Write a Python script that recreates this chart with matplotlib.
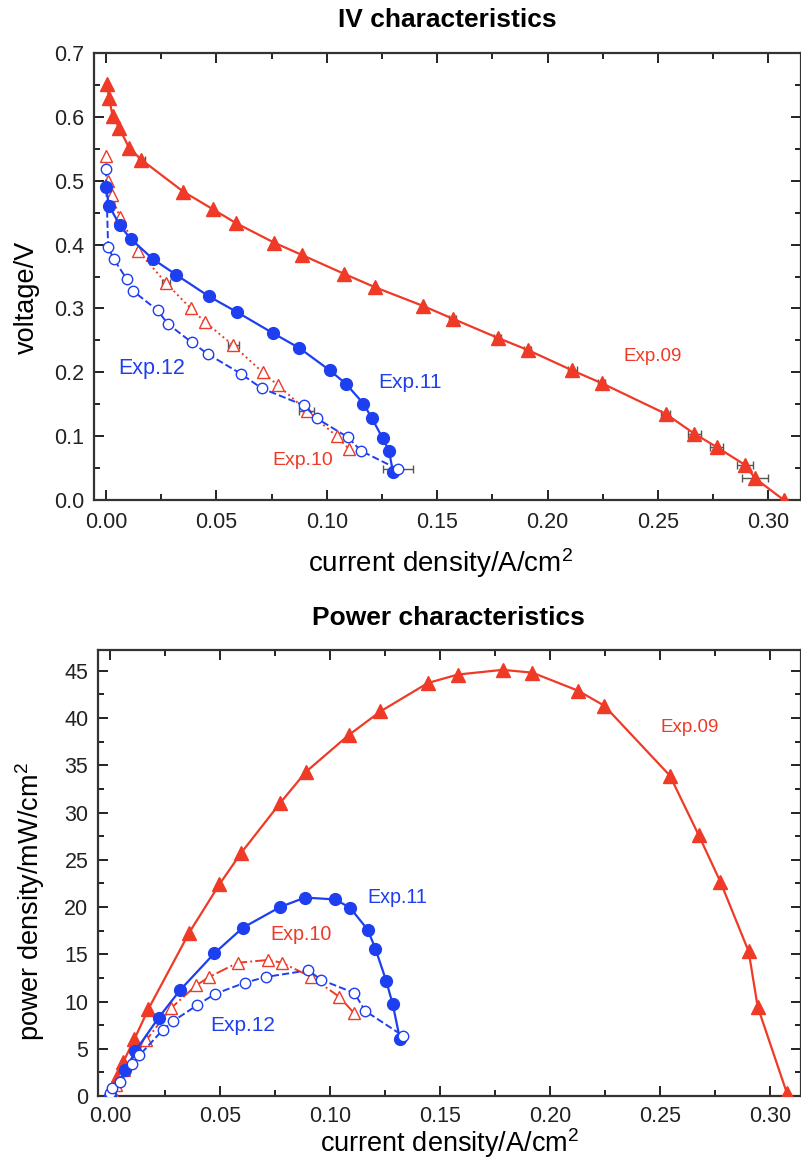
import numpy as np
import matplotlib
matplotlib.use('Agg')
import matplotlib.pyplot as plt
from matplotlib.ticker import MultipleLocator, FormatStrFormatter

plt.rcParams['font.family'] = ['Liberation Sans', 'DejaVu Sans']
plt.rcParams['mathtext.fontset'] = 'custom'
plt.rcParams['mathtext.rm'] = 'Liberation Sans'
plt.rcParams['mathtext.it'] = 'Liberation Sans'

RED = '#ee3a26'
BLUE = '#1d3ff0'

# ---- IV data (current density A/cm2, voltage V) ----
iv09_j = [0.0005, 0.0014, 0.003, 0.006, 0.0104, 0.016, 0.035, 0.0486, 0.0587, 0.0762,
          0.0886, 0.108, 0.122, 0.1436, 0.157, 0.1774, 0.191, 0.2112, 0.2245, 0.2535,
          0.2664, 0.2766, 0.2894, 0.294, 0.307]
iv09_v = [0.652, 0.630, 0.602, 0.583, 0.552, 0.533, 0.483, 0.455, 0.434, 0.403,
          0.384, 0.354, 0.333, 0.304, 0.284, 0.254, 0.235, 0.203, 0.183, 0.135,
          0.104, 0.083, 0.055, 0.034, 0.0]
iv09_err = [0, 0, 0, 0, 0, 0.0015, 0, 0, 0, 0,
            0, 0, 0, 0, 0.0015, 0.0015, 0.0015, 0.002, 0.0015, 0.002,
            0.003, 0.003, 0.0037, 0.006, 0]

iv10_j = [0.0, 0.001, 0.0026, 0.0063, 0.0146, 0.0272, 0.0384, 0.0448, 0.0577, 0.071,
          0.0778, 0.0909, 0.1045, 0.110]
iv10_v = [0.538, 0.500, 0.477, 0.443, 0.390, 0.340, 0.300, 0.279, 0.242, 0.200,
          0.180, 0.140, 0.100, 0.080]
iv10_err = [0, 0, 0, 0, 0, 0.002, 0, 0, 0.0025, 0,
            0, 0.0035, 0, 0]

iv11_j = [0.0, 0.0014, 0.0063, 0.0112, 0.0214, 0.0317, 0.0466, 0.0595, 0.0758, 0.0876,
          0.1014, 0.1087, 0.1166, 0.1203, 0.1253, 0.1282, 0.130]
iv11_v = [0.490, 0.461, 0.430, 0.409, 0.377, 0.353, 0.319, 0.294, 0.261, 0.238,
          0.203, 0.182, 0.151, 0.129, 0.097, 0.077, 0.044]

iv12_j = [0.0, 0.001, 0.0036, 0.0094, 0.0124, 0.0234, 0.028, 0.0388, 0.0464, 0.061,
          0.0705, 0.0898, 0.0954, 0.1097, 0.1155, 0.1324]
iv12_v = [0.518, 0.396, 0.377, 0.346, 0.327, 0.297, 0.276, 0.247, 0.228, 0.198,
          0.175, 0.148, 0.128, 0.098, 0.077, 0.048]
iv12_err = [0, 0, 0, 0, 0, 0, 0, 0, 0, 0,
            0, 0, 0, 0, 0, 0.0068]

# ---- power data (current density A/cm2, power density mW/cm2) ----
p09_j = [0.0, 0.0038, 0.006, 0.011, 0.0174, 0.036, 0.0497, 0.0595, 0.0773, 0.089,
         0.1085, 0.1229, 0.1444, 0.158, 0.1785, 0.192, 0.2127, 0.2247, 0.2545, 0.2676,
         0.2774, 0.2903, 0.2944, 0.3077]
p09_p = [0.0, 2.2, 3.6, 6.0, 9.2, 17.3, 22.4, 25.7, 31.0, 34.3,
         38.2, 40.7, 43.7, 44.6, 45.1, 44.8, 42.9, 41.3, 33.9, 27.6,
         22.7, 15.3, 9.45, 0.3]

p10_j = [0.0, 0.001, 0.0026, 0.0063, 0.0164, 0.0277, 0.0391, 0.0451, 0.058, 0.072,
         0.0782, 0.0914, 0.1042, 0.111]
p10_p = [0.0, 0.5, 1.2, 2.8, 5.9, 9.3, 11.7, 12.6, 14.1, 14.4,
         14.1, 12.6, 10.5, 8.75]

p11_j = [0.0, 0.007, 0.0115, 0.0221, 0.0318, 0.0474, 0.0603, 0.0773, 0.0886, 0.1024,
         0.1092, 0.1171, 0.1206, 0.1255, 0.1285, 0.1318]
p11_p = [0.0, 2.75, 4.76, 8.3, 11.2, 15.1, 17.8, 20.0, 21.0, 20.8,
         19.9, 17.6, 15.6, 12.2, 9.7, 6.0]

p12_j = [0.0, 0.001, 0.0047, 0.010, 0.0133, 0.024, 0.0285, 0.0395, 0.0477, 0.0614,
         0.0709, 0.0901, 0.0959, 0.111, 0.116, 0.1333]
p12_p = [0.3, 0.8, 1.5, 3.4, 4.3, 7.0, 7.9, 9.6, 10.8, 12.0,
         12.6, 13.3, 12.3, 10.9, 9.0, 6.35]

fig = plt.figure(figsize=(8.01, 11.73), dpi=100)
ax1 = fig.add_axes([94/801, 673/1173, 707/801, 447/1173])
ax2 = fig.add_axes([98/801, 77/1173, 703/801, 446/1173])


def style_axes(ax, xpad):
    for s in ax.spines.values():
        s.set_linewidth(1.6)
        s.set_color('#333333')
    ax.tick_params(which='both', direction='in', top=True, right=True,
                   labelsize=15.5, colors='#222222', width=1.4)
    ax.tick_params(which='major', length=7)
    ax.tick_params(which='minor', length=4)
    ax.tick_params(axis='x', which='major', pad=xpad)
    ax.tick_params(axis='y', which='major', pad=7)


# ---- IV characteristics ----
ax1.plot(iv09_j, iv09_v, '-', color=RED, lw=1.6, marker='^', ms=10, mfc=RED, mec=RED, zorder=3)
ax1.errorbar(iv09_j, iv09_v, xerr=iv09_err, fmt='none', ecolor='#555555', elinewidth=1.0, capsize=3, zorder=2)
ax1.plot(iv10_j, iv10_v, ':', color=RED, lw=1.4, marker='^', ms=8.5, mfc='white', mec=RED, mew=1.0, zorder=3)
ax1.errorbar(iv10_j, iv10_v, xerr=iv10_err, fmt='none', ecolor='#555555', elinewidth=1.0, capsize=3, zorder=2)
ax1.plot(iv11_j, iv11_v, '-', color=BLUE, lw=1.6, marker='o', ms=8.5, mfc=BLUE, mec=BLUE, zorder=3)
ax1.plot(iv12_j, iv12_v, '--', color=BLUE, lw=1.4, marker='o', ms=7.5, mfc='white', mec=BLUE, mew=1.0, zorder=3)
ax1.errorbar(iv12_j, iv12_v, xerr=iv12_err, fmt='none', ecolor='#555555', elinewidth=1.0, capsize=3, zorder=2)

ax1.set_xlim(-0.0054, 0.3148)
ax1.set_ylim(0, 0.7)
ax1.xaxis.set_major_locator(MultipleLocator(0.05))
ax1.xaxis.set_minor_locator(MultipleLocator(0.025))
ax1.yaxis.set_major_locator(MultipleLocator(0.1))
ax1.yaxis.set_minor_locator(MultipleLocator(0.05))
ax1.xaxis.set_major_formatter(FormatStrFormatter('%.2f'))
ax1.yaxis.set_major_formatter(FormatStrFormatter('%.1f'))
style_axes(ax1, 9)
ax1.set_xlabel('current density/A/cm$^{2}$', fontsize=20, va='baseline')
ax1.xaxis.set_label_coords(0.49, -0.161)
ax1.set_ylabel('voltage/V', fontsize=19.5)
ax1.yaxis.set_label_coords(-0.076, 0.454)
fig.text(447/801, 1 - 27/1173, 'IV characteristics', fontsize=19, fontweight='bold',
         ha='center', va='baseline')

ax1.text(0.0208, 0.206, 'Exp.12', color=BLUE, fontsize=15.5, ha='center', va='center')
ax1.text(0.1377, 0.184, 'Exp.11', color=BLUE, fontsize=15, ha='center', va='center')
ax1.text(0.0892, 0.0625, 'Exp.10', color=RED, fontsize=14, ha='center', va='center')
ax1.text(0.2477, 0.224, 'Exp.09', color=RED, fontsize=13.5, ha='center', va='center')

# ---- Power characteristics ----
ax2.plot(p09_j, p09_p, '-', color=RED, lw=1.6, marker='^', ms=10, mfc=RED, mec=RED, zorder=3)
ax2.plot(p10_j, p10_p, '-.', color=RED, lw=1.4, marker='^', ms=8.5, mfc='white', mec=RED, mew=1.0, zorder=3)
ax2.plot(p11_j, p11_p, '-', color=BLUE, lw=1.6, marker='o', ms=8.5, mfc=BLUE, mec=BLUE, zorder=3)
ax2.plot(p12_j, p12_p, '--', color=BLUE, lw=1.4, marker='o', ms=7.5, mfc='white', mec=BLUE, mew=1.0, zorder=3)

ax2.set_xlim(-0.0055, 0.3141)
ax2.set_ylim(0, 47.2)
ax2.xaxis.set_major_locator(MultipleLocator(0.05))
ax2.xaxis.set_minor_locator(MultipleLocator(0.025))
ax2.yaxis.set_major_locator(MultipleLocator(5))
ax2.yaxis.set_minor_locator(MultipleLocator(2.5))
ax2.xaxis.set_major_formatter(FormatStrFormatter('%.2f'))
style_axes(ax2, 7)
ax2.set_xlabel('current density/A/cm$^{2}$', fontsize=19.5, va='baseline')
ax2.xaxis.set_label_coords(0.50, -0.125)
ax2.set_ylabel('power density/mW/cm$^{2}$', fontsize=19.5)
ax2.yaxis.set_label_coords(-0.073, 0.435)
fig.text(448/801, 1 - 625/1173, 'Power characteristics', fontsize=19, fontweight='bold',
         ha='center', va='baseline')

ax2.text(0.1305, 21.0, 'Exp.11', color=BLUE, fontsize=14.2, ha='center', va='center')
ax2.text(0.0868, 17.1, 'Exp.10', color=RED, fontsize=14.2, ha='center', va='center')
ax2.text(0.0603, 7.5, 'Exp.12', color=BLUE, fontsize=15, ha='center', va='center')
ax2.text(0.2633, 39.0, 'Exp.09', color=RED, fontsize=13.5, ha='center', va='center')

fig.savefig('out.png', dpi=100)
